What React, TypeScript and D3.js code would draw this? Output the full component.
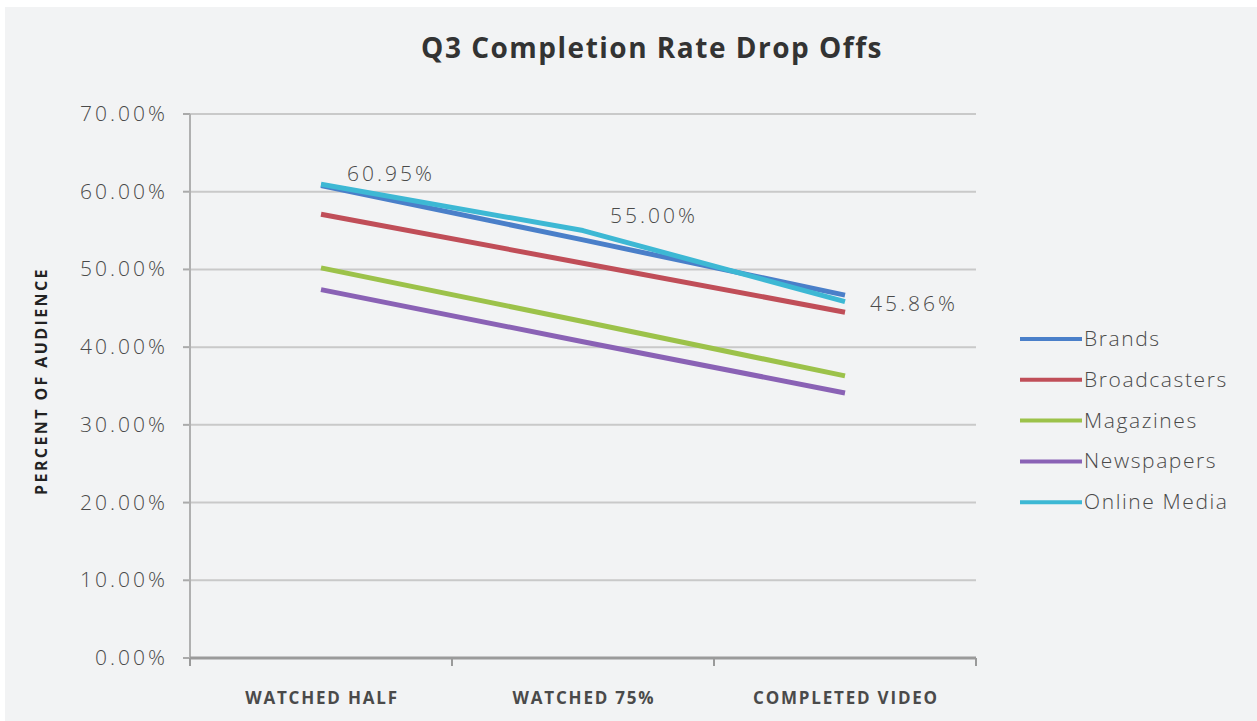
import React from "react";
import * as d3 from "d3";

const categories = ["WATCHED HALF", "WATCHED 75%", "COMPLETED VIDEO"];
const seriesNames = ["Brands", "Broadcasters", "Magazines", "Newspapers", "Online Media"];
const brands = [60.8, 53.8, 46.7];
const broadcasters = [57.1, 50.8, 44.5];
const magazines = [50.2, 43.3, 36.3];
const newspapers = [47.4, 40.7, 34.1];
const onlineMedia = [60.95, 55.0, 45.86];
const yTicks = [0, 10, 20, 30, 40, 50, 60, 70];
const colors = ["#4a7fc9", "#c04e58", "#9cc24a", "#8a62b5", "#3db8d4"];

export default function App() {
  const W = 1257, H = 721;
  const left = 190, right = 976, top = 114, bottom = 658;
  const x = d3.scaleBand().domain(categories).range([left, right]);
  const y = d3.scaleLinear().domain([0, 70]).range([bottom, top]);
  const cx = (c: string) => (x(c) as number) + x.bandwidth() / 2;
  const allSeries = [brands, broadcasters, magazines, newspapers, onlineMedia];
  const line = d3.line<number>().x((_, i) => cx(categories[i])).y((d) => y(d));
  const font = "'Open Sans', 'Noto Sans', sans-serif";
  const fmt = (v: number) => v.toFixed(2) + "%";
  const bandEdges = [...categories.map((c) => x(c) as number), right];
  const numStyle = { fontFamily: font, fontSize: 21, fill: "#4a4a4a", fontWeight: 300, letterSpacing: 3 } as const;

  return (
    <svg width={W} height={H} style={{ position: "absolute", left: 0, top: 0 }}>
      <rect x={0} y={0} width={W} height={H} fill="#ffffff" />
      <rect x={5} y={7} width={W - 5} height={H - 7} fill="#f2f3f4" />
      <text x={652} y={58} textAnchor="middle" fontFamily={font} fontWeight={700} fontSize={28} letterSpacing={1.5} fill="#333">
        Q3 Completion Rate Drop Offs
      </text>
      {yTicks.map((t) => (
        <g key={t}>
          {t > 0 && <line x1={left} x2={right} y1={y(t)} y2={y(t)} stroke="#c9c9c9" strokeWidth={2} />}
          <line x1={left - 7} x2={left} y1={y(t)} y2={y(t)} stroke="#aaa" strokeWidth={2} />
          <text x={168} y={y(t) + 7} textAnchor="end" {...numStyle}>
            {t.toFixed(2)}%
          </text>
        </g>
      ))}
      <line x1={left} x2={left} y1={top} y2={bottom} stroke="#b0b0b0" strokeWidth={2} />
      <line x1={left} x2={right} y1={bottom} y2={bottom} stroke="#9a9a9a" strokeWidth={3} />
      {bandEdges.map((e, i) => (
        <line key={i} x1={e} x2={e} y1={bottom} y2={bottom + 8} stroke="#9a9a9a" strokeWidth={2} />
      ))}
      {categories.map((c) => (
        <text key={c} x={cx(c) + 1} y={704} textAnchor="middle" fontFamily={font} fontWeight={700} fontSize={17} letterSpacing={1.8} fill="#4a4a4a">
          {c}
        </text>
      ))}
      <text
        transform={`translate(47, ${381}) rotate(-90)`}
        textAnchor="middle"
        fontFamily={font}
        fontWeight={700}
        fontSize={16}
        letterSpacing={2.4}
        fill="#222"
      >
        PERCENT OF AUDIENCE
      </text>
      {allSeries.map((s, i) => (
        <path key={i} d={line(s) as string} fill="none" stroke={colors[i]} strokeWidth={5} strokeLinejoin="round" />
      ))}
      <text x={347} y={181} {...numStyle}>{fmt(onlineMedia[0])}</text>
      <text x={610} y={223} {...numStyle}>{fmt(onlineMedia[1])}</text>
      <text x={870} y={311} {...numStyle}>{fmt(onlineMedia[2])}</text>
      {seriesNames.map((n, i) => (
        <g key={n} transform={`translate(1020, ${339 + i * 40.8})`}>
          <line x1={0} x2={62} y1={0} y2={0} stroke={colors[i]} strokeWidth={4} />
          <text x={64} y={7} fontFamily={font} fontSize={21} letterSpacing={1.6} fill="#4a4a4a" fontWeight={300}>{n}</text>
        </g>
      ))}
    </svg>
  );
}
